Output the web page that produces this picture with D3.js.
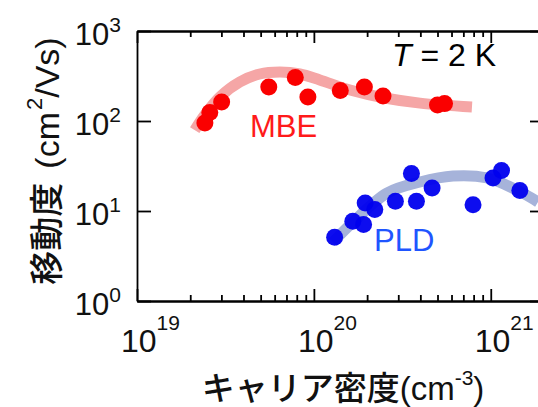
<!DOCTYPE html>
<html>
<head>
<meta charset="utf-8">
<script src="https://cdn.jsdelivr.net/npm/d3@7"></script>
<style>
body { margin: 0; background: #fff; }
text { font-family: "Liberation Sans", Arial, "Noto Sans CJK JP", sans-serif; }
</style>
</head>
<body>
<div id="chart"></div>
<script>
// measured points (carrier density cm^-3, mobility cm2/Vs)
var mbeN = [2.42e19, 2.58e19, 3.01e19, 5.56e19, 7.85e19, 9.25e19, 1.41e20, 1.93e20, 2.46e20, 5.0e20, 5.48e20]
var mbeMu = [95, 124, 163, 239, 304, 185, 218, 239, 190, 151, 156]
var pldN = [1.31e20, 1.66e20, 1.91e20, 1.95e20, 2.21e20, 2.89e20, 3.56e20, 3.80e20, 4.66e20, 7.94e20, 1.03e21, 1.15e21, 1.46e21]
var pldMu = [5.1, 7.7, 7.1, 12.3, 10.4, 12.8, 26.1, 12.8, 18.0, 11.7, 23.3, 28.2, 16.9]
// guide curves
var mbeFitN = [2.12e19, 2.42e19, 2.94e19, 3.81e19, 4.94e19, 6.42e19, 8.34e19, 1.08e20, 1.60e20, 2.52e20, 3.98e20, 7.83e20]
var mbeFitMu = [79, 117, 185, 271, 333, 350, 333, 286, 221, 180, 158, 143]
var pldFitN = [1.28e20, 1.66e20, 2.59e20, 3.98e20, 6.12e20, 9.53e20, 1.47e21, 1.85e21]
var pldFitMu = [4.5, 7.5, 15.8, 21.0, 24.5, 23.3, 16.3, 12.6]
var xExp = [19, 20, 21]
var yExp = [0, 1, 2, 3]

var W = 538, H = 407
var pLeft = 137, pRight = 544, pTop = 31, pBottom = 301

var svg = d3.select('#chart').append('svg')
  .attr('width', W)
  .attr('height', H)

var x = d3.scaleLog().domain([1e19, 2e21]).range([pLeft, pRight])
var y = d3.scaleLog().domain([1, 1000]).range([pBottom, pTop])

svg.append('clipPath').attr('id', 'plotclip')
  .append('rect')
  .attr('x', pLeft).attr('y', pTop)
  .attr('width', pRight - pLeft).attr('height', pBottom - pTop)

var zip = function(a, b) { return a.map(function(v, i) { return [v, b[i]] }) }

var line = d3.line()
  .x(function(d) { return x(d[0]) })
  .y(function(d) { return y(d[1]) })
  .curve(d3.curveCatmullRom.alpha(0.5))

var plot = svg.append('g').attr('clip-path', 'url(#plotclip)')

plot.append('path')
  .attr('d', line(zip(mbeFitN, mbeFitMu)))
  .attr('fill', 'none')
  .attr('stroke', '#f5a6a6')
  .attr('stroke-width', 11)

plot.append('path')
  .attr('d', line(zip(pldFitN, pldFitMu)))
  .attr('fill', 'none')
  .attr('stroke', '#a6b3da')
  .attr('stroke-width', 11)

plot.selectAll('circle.mbe')
  .data(zip(mbeN, mbeMu))
  .enter()
  .append('circle')
    .attr('class', 'mbe')
    .attr('r', 8.5)
    .attr('cx', function(d) { return x(d[0]) })
    .attr('cy', function(d) { return y(d[1]) })
    .attr('fill', '#fa0000')

plot.selectAll('circle.pld')
  .data(zip(pldN, pldMu))
  .enter()
  .append('circle')
    .attr('class', 'pld')
    .attr('r', 8.5)
    .attr('cx', function(d) { return x(d[0]) })
    .attr('cy', function(d) { return y(d[1]) })
    .attr('fill', '#0000ee')
    .attr('fill-opacity', 0.95)

// frame and ticks
var major = xExp.map(function(e) { return Math.pow(10, e) })
var minor = x.ticks().filter(function(d) {
  var l = Math.log10(d)
  return Math.abs(l - Math.round(l)) > 1e-6
})
var yMajor = yExp.map(function(e) { return Math.pow(10, e) })

function styleAxis(g) {
  g.selectAll('path, line').attr('stroke', '#000').attr('stroke-width', 1.8)
  g.selectAll('text').remove()
}

svg.append('g').attr('transform', 'translate(0,' + pBottom + ')')
  .call(d3.axisBottom(x).tickValues(major).tickSize(-12).tickSizeOuter(0).tickFormat(''))
  .call(styleAxis)
svg.append('g').attr('transform', 'translate(0,' + pBottom + ')')
  .call(d3.axisBottom(x).tickValues(minor).tickSize(-6).tickSizeOuter(0).tickFormat(''))
  .call(styleAxis)
svg.append('g').attr('transform', 'translate(0,' + pTop + ')')
  .call(d3.axisTop(x).tickValues(major).tickSize(-12).tickSizeOuter(0).tickFormat(''))
  .call(styleAxis)
svg.append('g').attr('transform', 'translate(0,' + pTop + ')')
  .call(d3.axisTop(x).tickValues(minor).tickSize(-6).tickSizeOuter(0).tickFormat(''))
  .call(styleAxis)
svg.append('g').attr('transform', 'translate(' + pLeft + ',0)')
  .call(d3.axisLeft(y).tickValues(yMajor).tickSize(-14).tickSizeOuter(0).tickFormat(''))
  .call(styleAxis)
svg.append('g').attr('transform', 'translate(' + pRight + ',0)')
  .call(d3.axisRight(y).tickValues(yMajor).tickSize(-14).tickSizeOuter(0).tickFormat(''))
  .call(styleAxis)

// tick labels
var xl = svg.selectAll('text.xl')
  .data(xExp)
  .enter()
  .append('text')
    .attr('class', 'xl')
    .attr('x', function(d) { return x(Math.pow(10, d)) - 16 })
    .attr('y', 352)
    .attr('font-size', 32)
    .attr('fill', '#111')
xl.append('tspan').text('10')
xl.append('tspan').attr('dy', -22).attr('font-size', 21).text(function(d) { return d })

var yl = svg.selectAll('text.yl')
  .data(yExp)
  .enter()
  .append('text')
    .attr('class', 'yl')
    .attr('x', 121)
    .attr('y', function(d) { return y(Math.pow(10, d)) + 14 })
    .attr('text-anchor', 'end')
    .attr('font-size', 31)
    .attr('fill', '#111')
yl.append('tspan').text('10')
yl.append('tspan').attr('dy', -13).attr('font-size', 21).text(function(d) { return d })

// axis titles
var xt = svg.append('text')
  .attr('x', 343)
  .attr('y', 400)
  .attr('text-anchor', 'middle')
  .attr('font-size', 33)
  .attr('fill', '#111')
xt.append('tspan').attr('font-weight', 500).text('キャリア密度')
xt.append('tspan').text('(cm')
xt.append('tspan').attr('dy', -15).attr('font-size', 21).text('-3')
xt.append('tspan').attr('dy', 15).text(')')

var yt = svg.append('text')
  .attr('transform', 'translate(59,161) rotate(-90)')
  .attr('text-anchor', 'middle')
  .attr('font-size', 34)
  .attr('fill', '#111')
yt.append('tspan').attr('font-weight', 500).text('移動度')
yt.append('tspan').attr('dx', 14).text('(cm')
yt.append('tspan').attr('dx', 2).attr('dy', -17).attr('font-size', 22).text('2')
yt.append('tspan').attr('dy', 17).text('/Vs)')

// annotations
svg.append('text')
  .attr('x', 250).attr('y', 137)
  .attr('font-size', 31)
  .attr('fill', '#ff1a1a')
  .text('MBE')

svg.append('text')
  .attr('x', 374).attr('y', 251)
  .attr('font-size', 31)
  .attr('fill', '#1f55ff')
  .text('PLD')

var tt = svg.append('text')
  .attr('x', 392).attr('y', 66)
  .attr('font-size', 32)
  .attr('fill', '#000')
tt.append('tspan').attr('font-style', 'italic').text('T')
tt.append('tspan').text(' = 2 K')
</script>
</body>
</html>
